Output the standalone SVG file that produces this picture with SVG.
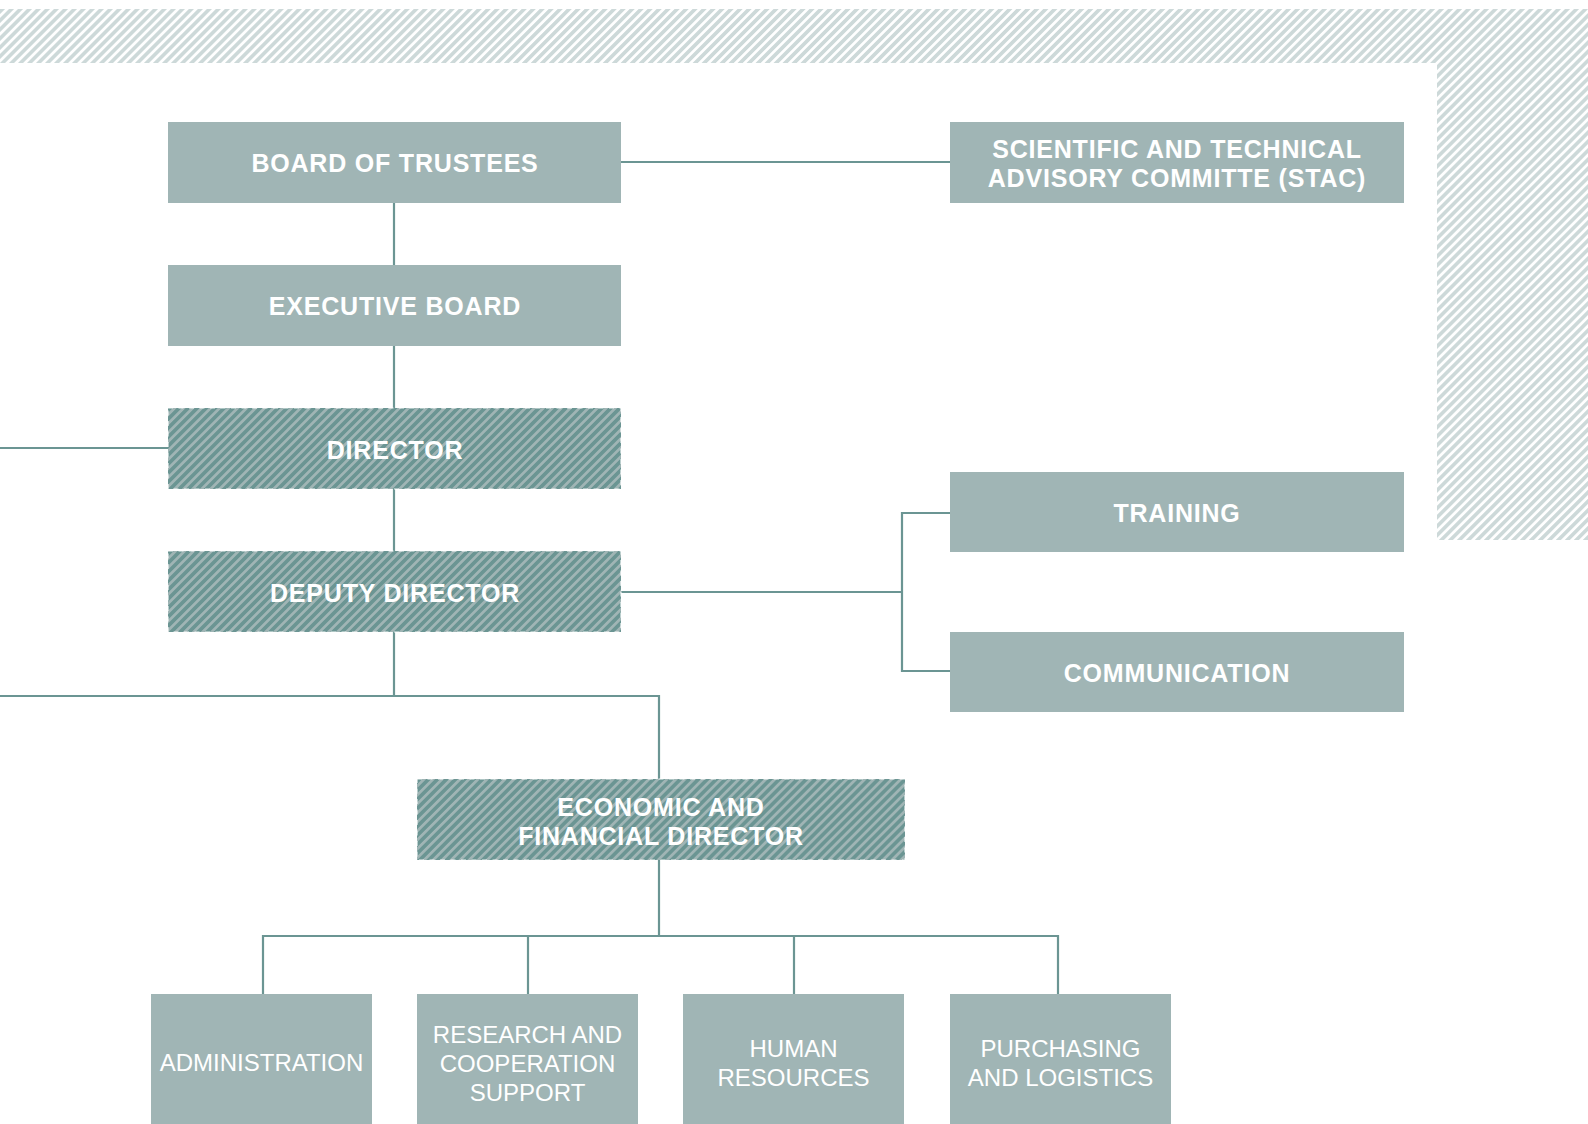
<svg xmlns="http://www.w3.org/2000/svg" width="1588" height="1124" viewBox="0 0 1588 1124">
  <defs>
    <pattern id="bgHatch" patternUnits="userSpaceOnUse" width="6.36" height="10" patternTransform="rotate(45)">
      <rect x="0" y="0" width="3.2" height="10" fill="#cdd9d9" shape-rendering="crispEdges"/>
    </pattern>
    <pattern id="boxHatch" patternUnits="userSpaceOnUse" width="6.36" height="10" patternTransform="rotate(45)">
      <rect x="0" y="0" width="6.36" height="10" fill="#a0b5b5" shape-rendering="crispEdges"/>
      <rect x="0" y="0" width="3.3" height="10" fill="#6b9593" shape-rendering="crispEdges"/>
    </pattern>
    <style>
      .box { fill: #a0b5b5; }
      .hbox { fill: url(#boxHatch); stroke: #ffffff; stroke-width: 1.2; stroke-dasharray: 5 5.5; stroke-opacity: 0.9; }
      .lbl { font-family: "Liberation Sans", Arial, sans-serif; font-weight: bold; font-size: 25px; letter-spacing: 0.8px; fill: #ffffff; text-anchor: middle; }
      .lbl2 { font-family: "Liberation Sans", Arial, sans-serif; font-weight: normal; font-size: 24px; fill: #ffffff; text-anchor: middle; }
      .conn { fill: none; stroke: #6b9593; stroke-width: 2.2; }
    </style>
  </defs>

  <rect x="0" y="0" width="1588" height="1124" fill="#ffffff"/>
  <path d="M0,9 H1588 V540 H1437 V63 H0 Z" fill="url(#bgHatch)"/>

  <g id="connectors">
    <path class="conn" d="M621,162 H950"/>
    <path class="conn" d="M394,203 V265"/>
    <path class="conn" d="M394,346 V408"/>
    <path class="conn" d="M0,448 H168"/>
    <path class="conn" d="M394,489 V551"/>
    <path class="conn" d="M621,592 H902"/>
    <path class="conn" d="M950,513 H902 V671 H950"/>
    <path class="conn" d="M394,632 V696"/>
    <path class="conn" d="M0,696 H659 V779"/>
    <path class="conn" d="M659,860 V936"/>
    <path class="conn" d="M263,994 V936 H1058 V994"/>
    <path class="conn" d="M528,936 V994"/>
    <path class="conn" d="M794,936 V994"/>
  </g>

  <g id="board">
    <rect class="box" x="168" y="122" width="453" height="81"/>
    <text class="lbl" x="395" y="172">BOARD OF TRUSTEES</text>
  </g>
  <g id="stac">
    <rect class="box" x="950" y="122" width="454" height="81"/>
    <text class="lbl" x="1177" y="158">SCIENTIFIC AND TECHNICAL</text>
    <text class="lbl" x="1177" y="187">ADVISORY COMMITTE (STAC)</text>
  </g>
  <g id="executive">
    <rect class="box" x="168" y="265" width="453" height="81"/>
    <text class="lbl" x="395" y="315">EXECUTIVE BOARD</text>
  </g>
  <g id="director">
    <rect class="hbox" x="168" y="408" width="453" height="81"/>
    <text class="lbl" x="395" y="459">DIRECTOR</text>
  </g>
  <g id="deputy">
    <rect class="hbox" x="168" y="551" width="453" height="81"/>
    <text class="lbl" x="395" y="602">DEPUTY DIRECTOR</text>
  </g>
  <g id="training">
    <rect class="box" x="950" y="472" width="454" height="80"/>
    <text class="lbl" x="1177" y="522">TRAINING</text>
  </g>
  <g id="communication">
    <rect class="box" x="950" y="632" width="454" height="80"/>
    <text class="lbl" x="1177" y="682">COMMUNICATION</text>
  </g>
  <g id="economic">
    <rect class="hbox" x="417" y="779" width="488" height="81"/>
    <text class="lbl" x="661" y="816">ECONOMIC AND</text>
    <text class="lbl" x="661" y="845">FINANCIAL DIRECTOR</text>
  </g>
  <g id="administration">
    <rect class="box" x="151" y="994" width="221" height="130"/>
    <text class="lbl2" x="261.5" y="1071">ADMINISTRATION</text>
  </g>
  <g id="research">
    <rect class="box" x="417" y="994" width="221" height="130"/>
    <text class="lbl2" x="527.5" y="1043">RESEARCH AND</text>
    <text class="lbl2" x="527.5" y="1072">COOPERATION</text>
    <text class="lbl2" x="527.5" y="1101">SUPPORT</text>
  </g>
  <g id="hr">
    <rect class="box" x="683" y="994" width="221" height="130"/>
    <text class="lbl2" x="793.5" y="1057">HUMAN</text>
    <text class="lbl2" x="793.5" y="1086">RESOURCES</text>
  </g>
  <g id="purchasing">
    <rect class="box" x="950" y="994" width="221" height="130"/>
    <text class="lbl2" x="1060.5" y="1057">PURCHASING</text>
    <text class="lbl2" x="1060.5" y="1086">AND LOGISTICS</text>
  </g>
</svg>
